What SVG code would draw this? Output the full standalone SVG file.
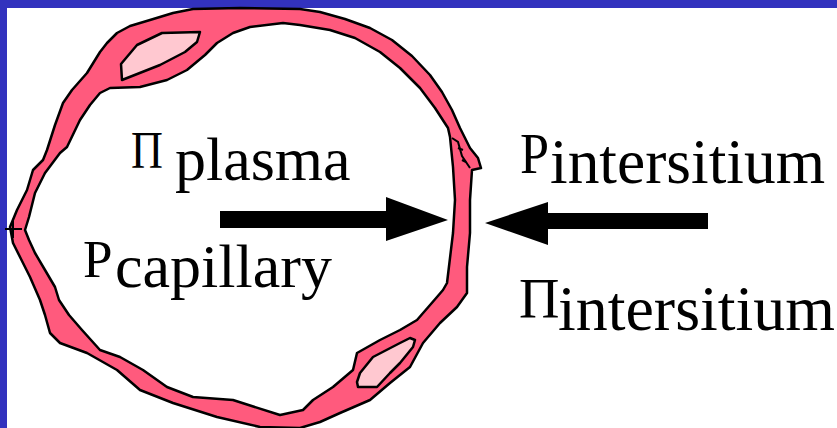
<svg xmlns="http://www.w3.org/2000/svg" width="837" height="428" viewBox="0 0 837 428">
  <style>
    .frame { fill: #3232be; }
    .wall { fill: #ff5a7d; stroke: #000; stroke-width: 2.5; stroke-linejoin: round; fill-rule: evenodd; }
    .cell { fill: #ffc8d0; stroke: #000; stroke-width: 2.5; stroke-linejoin: round; }
    .ink { fill: none; stroke: #000; stroke-width: 2; }
    .lbl { font-family: "Liberation Serif", "Times New Roman", serif; fill: #000; }
    .arrow { fill: #000; }
  </style>

  <rect x="0" y="0" width="837" height="428" fill="#fff"/>
  <rect class="frame" x="0" y="0" width="837" height="8"/>
  <rect class="frame" x="0" y="0" width="7" height="428"/>

  <!-- capillary wall (ring) -->
  <g id="capillary">
    <path class="wall" d="
      M47,150 L55,125 L63,103 L72,90 L87,73 L100,52 L107,43 L117,33 L130,26 L150,20 L173,13 L193,9 L240,8 L300,9
      L320,12 L345,19 L370,28 L392,40 L412,56 L430,75 L442,92 L452,110 L460,128 L470,148 L478,158 L481,168
      L472,170 L470,200 L470,233 L467,267 L467,293 L457,307 L440,323 L423,343 L410,367 L390,383 L370,400
      L340,413 L320,422 L300,428 L260,427 L217,417 L173,403 L140,390 L117,370 L87,353 L60,343 L50,333
      L45,315 L40,300 L30,277 L20,257 L13,243 L10,227 L17,210 L27,190 L33,170 L43,160 Z
      M60,153 L45,173 L35,193 L29,217 L25,230 L29,240 L35,253 L45,270 L55,287 L59,300 L69,315 L82,330
      L100,350 L120,357 L143,370 L167,387 L193,397 L233,400 L280,415 L303,410 L313,400 L333,387 L353,370
      L357,353 L380,340 L400,330 L417,320 L437,297 L443,290 L447,283 L453,233 L455,200 L453,167 L450,137
      L448,128 L435,108 L420,88 L400,68 L380,52 L355,38 L330,30 L300,25 L283,23 L250,27 L233,33 L217,43
      L205,55 L187,70 L167,80 L140,87 L110,88 L100,93 L90,105 L80,120 L67,147 Z"/>
    <!-- overlapping wall edges on the right -->
    <path class="ink" d="M452,138 L458,142 L462,156 L470,168"/>
    <path class="ink" d="M458,148 L463,150 M462,160 L466,162" stroke-width="1.5"/>
    <!-- small junction mark on the left -->
    <path class="ink" d="M5,229 H22 M13,221 V238" stroke-width="1.5"/>
    <!-- endothelial nuclei -->
    <path class="cell" d="M122,80 L121,64 L137,45 L162,33 L200,32 L197,42 L185,52 L160,65 Z"/>
    <path class="cell" d="M357,382 L360,373 L373,357 L400,343 L410,338 L415,340 L413,347 L400,363 L390,373 L377,387 L358,387 Z"/>
  </g>

  <!-- flow arrows -->
  <g id="connectors">
    <polygon class="arrow" points="220,211 386,211 386,197 448,220 386,241 386,228 220,228"/>
    <polygon class="arrow" points="708,213 548,213 548,202 485,223 548,245 548,229 708,229"/>
  </g>

  <g id="pi-plasma">
    <text class="lbl" font-size="52" transform="translate(131,168) scale(0.85,1)">Π</text>
    <text class="lbl" x="175" y="180" font-size="62">plasma</text>
  </g>

  <g id="p-capillary">
    <text class="lbl" x="83" y="277" font-size="53">P</text>
    <text class="lbl" x="115" y="287" font-size="62">capillary</text>
  </g>

  <g id="p-intersitium">
    <text class="lbl" font-size="58" transform="translate(520,173) scale(0.9,1)">P</text>
    <text class="lbl" x="550" y="183" font-size="63" textLength="275" lengthAdjust="spacingAndGlyphs">intersitium</text>
  </g>

  <g id="pi-intersitium">
    <text class="lbl" font-size="56" transform="translate(519,318)">Π</text>
    <text class="lbl" x="558" y="330" font-size="63" textLength="277" lengthAdjust="spacingAndGlyphs">intersitium</text>
  </g>
</svg>
